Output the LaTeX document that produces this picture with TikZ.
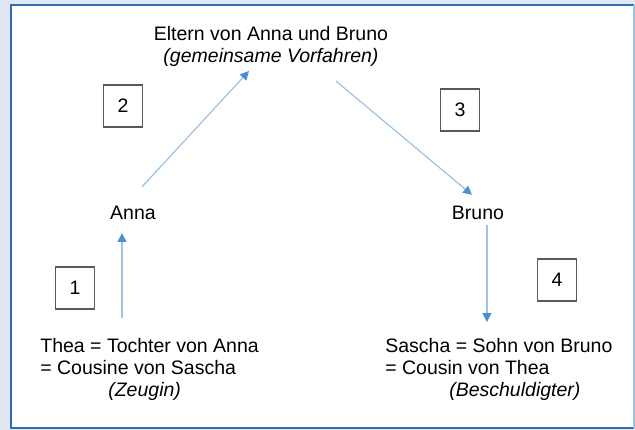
\documentclass[tikz,border=0pt]{standalone}
\usepackage{fontspec}
\setmainfont{Liberation Sans}
\usetikzlibrary{arrows.meta}
\definecolor{framebg}{HTML}{E1E6F3}
\definecolor{frameblue}{HTML}{2F6DB5}
\definecolor{arrowblue}{HTML}{9EC3E8}
\definecolor{tipblue}{HTML}{4A8FD6}
\tikzset{
  arr/.style={draw=arrowblue, line width=0.7pt, -{Triangle[length=5pt,width=5pt,color=tipblue]}},
  numbox/.style={draw=black!65, line width=0.8pt, minimum width=0.78cm, minimum height=0.84cm, inner sep=0pt},
  person/.style={inner sep=0pt, align=left},
}
\begin{document}
\begin{tikzpicture}[x=0.02cm, y=-0.02cm, font=\fontsize{11.1}{12.6}\selectfont]
  % frame
  \fill[framebg] (0,0) rectangle (635,430);
  \fill[white] (11,5) rectangle (634,428);
  \draw[frameblue, line width=1.2pt] (634,5) -- (11,5) -- (11,428) -- (634,428);
  \draw[arrowblue, line width=0.8pt] (634,5) -- (634,428);

  % persons
  \node[person, align=center, anchor=north] (eltern) at (271,26) {Eltern von Anna und Bruno\\ \textit{(gemeinsame Vorfahren)}};
  \node[person] (anna) at (133,213) {Anna};
  \node[person] (bruno) at (478,213) {Bruno};
  \node[person, anchor=north west] (thea) at (40,338) {Thea = Tochter von Anna\\= Cousine von Sascha\\\hspace*{1.36cm}\textit{(Zeugin)}};
  \node[person, anchor=north west] (sascha) at (385,338) {Sascha = Sohn von Bruno\\= Cousin von Thea\\\hspace*{1.28cm}\textit{(Beschuldigter)}};

  % steps
  \foreach \n/\x/\y in {1/75/288, 2/123/106, 3/460/110, 4/557/280}
    \node[numbox] (box\n) at (\x,\y) {\n};

  \draw[arr] ([xshift=-0.22cm,yshift=0.4cm]anna.south |- thea.north) -- ([xshift=-0.22cm,yshift=-0.26cm]anna.south);
  \draw[arr] ([xshift=0.18cm,yshift=0.38cm]anna.north) -- ([xshift=-0.44cm,yshift=-0.08cm]eltern.south);
  \draw[arr] ([xshift=1.3cm,yshift=-0.28cm]eltern.south) -- ([xshift=-0.12cm,yshift=0.22cm]bruno.north);
  \draw[arr] ([xshift=0.18cm,yshift=-0.1cm]bruno.south) -- ([xshift=0.18cm,yshift=0.32cm]bruno.south |- sascha.north);
\end{tikzpicture}
\end{document}
